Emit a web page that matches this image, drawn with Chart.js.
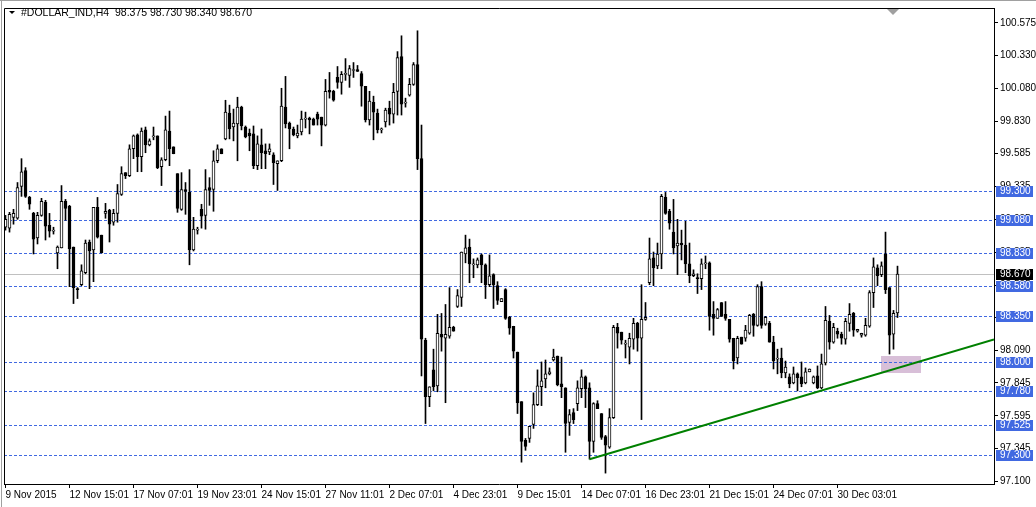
<!DOCTYPE html>
<html>
<head>
<meta charset="utf-8">
<title>#DOLLAR_IND,H4</title>
<script src="https://cdn.jsdelivr.net/npm/chart.js@4.4.0/dist/chart.umd.min.js"></script>
<style>
  html, body { margin: 0; padding: 0; background: #ffffff; }
  canvas { display: block; }
</style>
</head>
<body>
<canvas id="myChart" width="1036" height="507"></canvas>
<script>
// H4 bars of #DOLLAR_IND (oldest first)
var opens = [
  99.025, 99.018, 99.100, 99.093, 99.334, 99.454, 99.251, 99.130, 98.943, 99.115,
  99.214, 99.040, 98.995, 98.830, 98.868, 99.221, 99.184, 98.875, 98.559, 98.589,
  98.680, 98.913, 98.853, 99.176, 98.965, 99.130, 99.153, 99.063, 99.130, 99.274,
  99.439, 99.416, 99.620, 99.725, 99.560, 99.763, 99.650, 99.710, 99.718, 99.484,
  99.537, 99.755, 99.635, 99.431, 99.161, 99.311, 99.289, 98.853, 99.003, 99.161,
  99.115, 99.326, 99.311, 99.529, 99.620, 99.695, 99.891, 99.785, 99.808, 99.936,
  99.785, 99.740, 99.733, 99.492, 99.650, 99.605, 99.597, 99.575, 99.507, 99.529,
  99.936, 99.815, 99.770, 99.718, 99.748, 99.845, 99.853, 99.845, 99.883, 99.860,
  99.800, 100.064, 100.056, 100.161, 100.124, 100.184, 100.176, 100.214, 100.221, 100.191,
  100.094, 99.838, 99.973, 99.891, 99.763, 99.823, 99.928, 99.883, 100.056, 100.319,
  99.966, 100.026, 100.109, 100.259, 99.545, 98.168, 97.739, 97.943, 97.822, 98.213,
  98.183, 98.198, 98.266, 98.424, 98.492, 98.822, 98.875, 98.740, 98.740, 98.815,
  98.740, 98.589, 98.665, 98.582, 98.461, 98.552, 98.341, 98.274, 98.078, 97.702,
  97.408, 97.423, 97.529, 97.679, 97.815, 97.875, 97.913, 98.018, 98.048, 97.837,
  97.807, 97.544, 97.619, 97.687, 97.800, 97.890, 97.807, 97.401, 97.687, 97.612,
  97.438, 97.356, 97.581, 98.266, 98.229, 98.138, 98.115, 98.176, 98.296, 98.183,
  98.326, 98.604, 98.792, 98.732, 98.822, 99.251, 99.146, 98.988, 98.883, 98.905,
  98.890, 98.747, 98.657, 98.642, 98.635, 98.747, 98.755, 98.364, 98.334, 98.454,
  98.364, 98.326, 98.183, 98.033, 98.191, 98.183, 98.221, 98.364, 98.281, 98.574,
  98.289, 98.296, 98.153, 98.025, 98.033, 97.920, 97.890, 97.845, 97.913, 97.890,
  97.845, 97.928, 97.845, 97.897, 97.807, 97.995, 98.311, 98.153, 98.236, 98.213,
  98.176, 98.296, 98.371, 98.236, 98.206, 98.206, 98.274, 98.529, 98.717, 98.665,
  98.822, 98.567, 98.213, 98.375
];
var highs = [
  99.115, 99.138, 99.161, 99.364, 99.545, 99.477, 99.259, 99.138, 99.138, 99.244,
  99.229, 99.130, 99.025, 98.883, 99.341, 99.236, 99.191, 98.875, 98.567, 98.740,
  98.928, 98.928, 99.176, 99.251, 98.965, 99.206, 99.161, 99.161, 99.349, 99.484,
  99.439, 99.650, 99.725, 99.733, 99.778, 99.785, 99.695, 99.785, 99.718, 99.552,
  99.868, 99.906, 99.635, 99.431, 99.439, 99.364, 99.462, 99.100, 99.025, 99.199,
  99.462, 99.401, 99.605, 99.650, 99.620, 99.988, 99.951, 99.921, 100.011, 99.943,
  99.793, 99.770, 99.793, 99.718, 99.770, 99.657, 99.657, 99.590, 99.529, 100.079,
  100.169, 99.823, 99.785, 99.800, 99.906, 99.898, 99.860, 99.853, 99.898, 99.860,
  100.146, 100.199, 100.064, 100.244, 100.206, 100.304, 100.252, 100.274, 100.252, 100.206,
  100.094, 100.056, 100.019, 99.921, 99.778, 99.928, 99.981, 100.116, 100.357, 100.477,
  100.004, 100.154, 100.274, 100.515, 99.800, 98.183, 97.815, 98.100, 98.364, 98.371,
  98.439, 98.567, 98.274, 98.552, 98.837, 98.965, 98.935, 98.785, 98.792, 98.822,
  98.747, 98.815, 98.672, 98.612, 98.484, 98.559, 98.349, 98.274, 98.078, 97.702,
  97.423, 97.514, 97.769, 97.943, 98.003, 98.018, 97.958, 98.100, 98.048, 98.040,
  97.807, 97.642, 97.649, 97.860, 97.943, 97.897, 97.845, 97.694, 97.709, 97.612,
  97.446, 97.649, 98.281, 98.296, 98.229, 98.168, 98.221, 98.334, 98.304, 98.589,
  98.454, 98.943, 98.837, 98.905, 99.274, 99.289, 99.161, 99.236, 99.085, 99.003,
  99.070, 98.905, 98.702, 98.672, 98.785, 98.807, 98.762, 98.461, 98.409, 98.454,
  98.461, 98.326, 98.183, 98.198, 98.191, 98.281, 98.364, 98.371, 98.589, 98.612,
  98.349, 98.311, 98.198, 98.100, 98.108, 98.010, 97.913, 97.965, 97.920, 98.003,
  97.958, 97.950, 97.897, 97.973, 98.063, 98.424, 98.356, 98.296, 98.259, 98.229,
  98.334, 98.446, 98.379, 98.251, 98.221, 98.334, 98.544, 98.792, 98.740, 98.762,
  98.988, 98.567, 98.394, 98.730
];
var lows = [
  99.003, 98.988, 99.048, 99.085, 99.259, 99.251, 99.161, 98.822, 98.898, 99.108,
  98.928, 98.950, 98.973, 98.710, 98.868, 99.078, 98.574, 98.446, 98.484, 98.582,
  98.672, 98.559, 98.612, 98.943, 98.830, 99.093, 98.913, 99.040, 99.063, 99.266,
  99.394, 99.409, 99.545, 99.446, 99.446, 99.590, 99.642, 99.688, 99.469, 99.341,
  99.529, 99.492, 99.582, 99.138, 99.153, 99.123, 98.740, 98.845, 98.973, 99.018,
  99.010, 99.191, 99.146, 99.514, 99.582, 99.688, 99.695, 99.680, 99.529, 99.763,
  99.703, 99.605, 99.469, 99.462, 99.469, 99.469, 99.575, 99.349, 99.304, 99.522,
  99.778, 99.620, 99.718, 99.703, 99.725, 99.778, 99.733, 99.800, 99.800, 99.642,
  99.793, 100.004, 99.981, 100.079, 100.034, 100.139, 100.086, 100.161, 100.206, 99.943,
  99.823, 99.800, 99.688, 99.740, 99.740, 99.785, 99.800, 99.815, 99.876, 99.876,
  99.936, 100.019, 100.101, 99.462, 97.897, 97.536, 97.664, 97.784, 97.777, 98.085,
  97.694, 98.183, 98.236, 98.416, 98.424, 98.755, 98.604, 98.642, 98.717, 98.604,
  98.484, 98.574, 98.409, 98.439, 98.461, 98.326, 98.213, 98.033, 97.612, 97.243,
  97.333, 97.393, 97.499, 97.672, 97.672, 97.807, 97.905, 98.010, 97.822, 97.732,
  97.318, 97.446, 97.536, 97.634, 97.732, 97.657, 97.266, 97.318, 97.649, 97.416,
  97.160, 97.348, 97.574, 98.108, 98.138, 98.033, 97.988, 98.100, 98.085, 97.566,
  98.319, 98.589, 98.582, 98.710, 98.710, 99.123, 99.010, 98.822, 98.665, 98.777,
  98.680, 98.604, 98.650, 98.522, 98.552, 98.710, 98.244, 98.206, 98.334, 98.349,
  98.319, 98.153, 97.950, 97.988, 98.138, 98.160, 98.213, 98.198, 98.274, 98.259,
  98.281, 98.153, 97.950, 97.913, 97.883, 97.883, 97.807, 97.837, 97.784, 97.815,
  97.837, 97.928, 97.837, 97.800, 97.800, 97.980, 98.100, 98.145, 98.183, 98.138,
  98.138, 98.236, 98.198, 98.229, 98.191, 98.198, 98.266, 98.416, 98.582, 98.650,
  98.522, 98.063, 98.100, 98.340
];
var closes = [
  99.085, 99.123, 99.130, 99.326, 99.446, 99.259, 99.199, 98.935, 99.115, 99.221,
  99.033, 98.995, 98.995, 98.875, 99.221, 99.168, 98.860, 98.567, 98.552, 98.695,
  98.905, 98.845, 99.176, 98.950, 98.830, 99.146, 99.048, 99.130, 99.281, 99.431,
  99.416, 99.620, 99.718, 99.560, 99.755, 99.650, 99.680, 99.710, 99.477, 99.537,
  99.763, 99.620, 99.582, 99.168, 99.311, 99.296, 98.853, 99.010, 99.003, 99.108,
  99.311, 99.304, 99.529, 99.620, 99.582, 99.898, 99.770, 99.815, 99.936, 99.793,
  99.710, 99.718, 99.492, 99.657, 99.590, 99.582, 99.620, 99.514, 99.529, 99.943,
  99.808, 99.770, 99.725, 99.740, 99.845, 99.845, 99.838, 99.800, 99.845, 99.800,
  100.056, 100.049, 99.988, 100.124, 100.184, 100.184, 100.229, 100.214, 100.206, 100.094,
  99.838, 99.981, 99.898, 99.763, 99.763, 99.913, 99.883, 100.049, 100.312, 99.958,
  99.966, 100.109, 100.259, 99.545, 98.176, 97.739, 97.815, 97.815, 98.221, 98.191,
  98.213, 98.266, 98.236, 98.507, 98.837, 98.868, 98.747, 98.747, 98.777, 98.740,
  98.589, 98.657, 98.589, 98.469, 98.484, 98.334, 98.259, 98.085, 97.694, 97.401,
  97.363, 97.514, 97.679, 97.822, 97.860, 97.913, 97.928, 98.040, 97.830, 97.815,
  97.536, 97.604, 97.566, 97.807, 97.890, 97.800, 97.401, 97.687, 97.649, 97.431,
  97.371, 97.581, 98.266, 98.221, 98.168, 98.138, 98.183, 98.296, 98.183, 98.326,
  98.341, 98.785, 98.717, 98.822, 99.259, 99.130, 99.055, 98.868, 98.905, 98.890,
  98.747, 98.657, 98.672, 98.635, 98.747, 98.747, 98.349, 98.334, 98.401, 98.349,
  98.334, 98.176, 98.010, 98.183, 98.138, 98.244, 98.356, 98.281, 98.574, 98.281,
  98.341, 98.153, 98.010, 98.025, 97.920, 97.965, 97.837, 97.913, 97.883, 97.837,
  97.928, 97.950, 97.890, 97.807, 97.988, 98.319, 98.153, 98.266, 98.213, 98.183,
  98.311, 98.364, 98.244, 98.251, 98.221, 98.281, 98.529, 98.725, 98.657, 98.732,
  98.552, 98.206, 98.371, 98.670
];

// time scale labels and the bar each one sits on
var tickLabels = ['9 Nov 2015', '12 Nov 15:01', '17 Nov 07:01', '19 Nov 23:01', '24 Nov 15:01',
  '27 Nov 11:01', '2 Dec 07:01', '4 Dec 23:01', '9 Dec 15:01', '14 Dec 07:01',
  '16 Dec 23:01', '21 Dec 15:01', '24 Dec 07:01', '30 Dec 03:01'];
var tickBars = [0, 16, 32, 48, 64, 80, 96, 112, 128, 144, 160, 176, 192, 208];

// price scale
var priceTicks = [100.575, 100.330, 100.080, 99.830, 99.585, 99.335, 99.085, 98.835,
  98.585, 98.340, 98.090, 97.845, 97.595, 97.345, 97.100];

// drawn objects
var levels = [99.300, 99.080, 98.830, 98.580, 98.350, 98.000, 97.780, 97.525, 97.300];
var lastPrice = 98.670;
var trendBars = [146, 223];
var trendPrices = [97.265, 97.957];
var boxBars = [218.9, 228.9];
var boxPrices = [97.920, 98.048];
var titleText = '#DOLLAR_IND,H4  98.375 98.730 98.340 98.670';

var FONT = '10px "Liberation Sans", Arial, sans-serif';

var decor = {
  id: 'decor',
  beforeDatasetsDraw: function (chart) {
    var c = chart.ctx, a = chart.chartArea;
    var xs = chart.scales.x, ys = chart.scales.y;
    c.save();
    c.beginPath();
    c.rect(a.left, a.top, a.right - a.left, a.bottom - a.top);
    c.clip();
    // filled rectangle
    var bx1 = Math.round(xs.getPixelForValue(boxBars[0]));
    var bx2 = Math.round(xs.getPixelForValue(boxBars[1]));
    var by1 = Math.round(ys.getPixelForValue(boxPrices[1]));
    var by2 = Math.round(ys.getPixelForValue(boxPrices[0]));
    c.fillStyle = '#d8bfd8';
    c.fillRect(bx1, by1, bx2 - bx1, by2 - by1);
    // bid line
    c.lineWidth = 1;
    c.strokeStyle = '#c0c0c0';
    var py = Math.round(ys.getPixelForValue(lastPrice)) + 0.5;
    c.beginPath(); c.moveTo(a.left, py); c.lineTo(a.right, py); c.stroke();
    // horizontal levels
    c.strokeStyle = '#4169e1';
    c.setLineDash([3, 2]);
    levels.forEach(function (lv) {
      var y = Math.round(ys.getPixelForValue(lv)) + 0.5;
      c.beginPath(); c.moveTo(a.left, y); c.lineTo(a.right, y); c.stroke();
    });
    c.restore();
  },
  afterDatasetsDraw: function (chart) {
    var c = chart.ctx, a = chart.chartArea;
    var xs = chart.scales.x, ys = chart.scales.y;
    var slope = (trendPrices[1] - trendPrices[0]) / (trendBars[1] - trendBars[0]);
    var endBar = xs.getValueForPixel(a.right);
    var endPrice = trendPrices[0] + slope * (endBar - trendBars[0]);
    c.save();
    c.beginPath();
    c.rect(a.left, a.top, a.right - a.left, a.bottom - a.top);
    c.clip();
    c.strokeStyle = '#008000';
    c.lineWidth = 2;
    c.beginPath();
    c.moveTo(xs.getPixelForValue(trendBars[0]), ys.getPixelForValue(trendPrices[0]));
    c.lineTo(a.right, ys.getPixelForValue(endPrice));
    c.stroke();
    c.restore();
  },
  afterDraw: function (chart) {
    var c = chart.ctx, a = chart.chartArea;
    var ys = chart.scales.y;
    c.save();
    // top and left frame of the plot
    c.strokeStyle = '#000000';
    c.lineWidth = 1;
    c.beginPath();
    c.moveTo(a.left + 0.5, a.bottom);
    c.lineTo(a.left + 0.5, a.top + 0.5);
    c.lineTo(a.right, a.top + 0.5);
    c.stroke();
    // window edge
    c.strokeStyle = '#a0a0a0';
    c.beginPath();
    c.moveTo(0, 0.5); c.lineTo(1036, 0.5);
    c.moveTo(1.5, 0); c.lineTo(1.5, 507);
    c.stroke();
    // price labels of the levels
    c.font = FONT;
    c.textBaseline = 'middle';
    c.textAlign = 'left';
    var tags = levels.map(function (lv) { return { v: lv, bg: '#4169e1' }; });
    tags.push({ v: lastPrice, bg: '#000000' });
    tags.forEach(function (t) {
      var y = Math.round(ys.getPixelForValue(t.v));
      c.fillStyle = t.bg;
      c.fillRect(a.right + 2, y - 5, 37, 11);
      c.fillStyle = '#ffffff';
      c.fillText(t.v.toFixed(3), a.right + 6, y + 0.5);
    });
    // title
    c.fillStyle = '#000000';
    c.beginPath();
    c.moveTo(9, 11); c.lineTo(15, 11); c.lineTo(12, 14); c.closePath();
    c.fill();
    c.font = '10.5px "Liberation Sans", Arial, sans-serif';
    c.fillText(titleText, 21, 13);
    // chart shift marker
    c.fillStyle = '#a0a0a0';
    c.beginPath();
    c.moveTo(887, a.top + 1); c.lineTo(899, a.top + 1); c.lineTo(893, a.top + 7); c.closePath();
    c.fill();
    c.restore();
  }
};

var bars = opens.map(function (o, i) { return i; });
var ctx = document.getElementById('myChart').getContext('2d');
var myChart = new Chart(ctx, {
  type: 'bar',
  data: {
    datasets: [{
      label: 'body',
      data: bars.map(function (i) {
        return { x: i, y: [Math.min(opens[i], closes[i]), Math.max(opens[i], closes[i])] };
      }),
      backgroundColor: function (c) {
        var i = c.dataIndex;
        return closes[i] >= opens[i] ? '#ffffff' : '#000000';
      },
      borderColor: '#000000',
      borderWidth: 1,
      borderSkipped: false,
      barThickness: 3,
      minBarLength: 1,
      grouped: false,
      order: 1
    }, {
      label: 'wick',
      data: bars.map(function (i) { return { x: i, y: [lows[i], highs[i]] }; }),
      backgroundColor: '#000000',
      borderWidth: 0,
      barThickness: 1,
      minBarLength: 1,
      grouped: false,
      order: 2
    }]
  },
  options: {
    responsive: false,
    animation: false,
    devicePixelRatio: 1,
    layout: { padding: { left: 4, top: 4, right: 0, bottom: 0 } },
    plugins: { legend: { display: false }, tooltip: { enabled: false } },
    scales: {
      x: {
        type: 'linear',
        min: -0.375,
        max: 247.125,
        offset: false,
        afterFit: function (scale) { scale.height = 23; },
        afterBuildTicks: function (scale) {
          scale.ticks = tickBars.map(function (b) { return { value: b }; });
        },
        grid: { offset: false, drawOnChartArea: false, drawTicks: true, tickLength: 4, color: '#000000' },
        border: { display: true, color: '#000000' },
        ticks: {
          autoSkip: false, maxRotation: 0, minRotation: 0, align: 'start', padding: 1,
          color: '#000000',
          font: { family: '"Liberation Sans", Arial, sans-serif', size: 10 },
          callback: function (value) {
            var k = tickBars.indexOf(value);
            return k >= 0 ? tickLabels[k] : '';
          }
        }
      },
      y: {
        type: 'linear',
        position: 'right',
        min: 97.0774,
        max: 100.6878,
        afterFit: function (scale) { scale.width = 42; },
        afterBuildTicks: function (scale) {
          scale.ticks = priceTicks.map(function (p) { return { value: p }; });
        },
        grid: { drawOnChartArea: false, drawTicks: true, tickLength: 4, color: '#000000' },
        border: { display: true, color: '#000000' },
        ticks: {
          padding: 2,
          color: '#000000',
          font: { family: '"Liberation Sans", Arial, sans-serif', size: 10 },
          callback: function (value) { return value.toFixed(3); }
        }
      }
    }
  },
  plugins: [decor]
});
</script>
</body>
</html>
